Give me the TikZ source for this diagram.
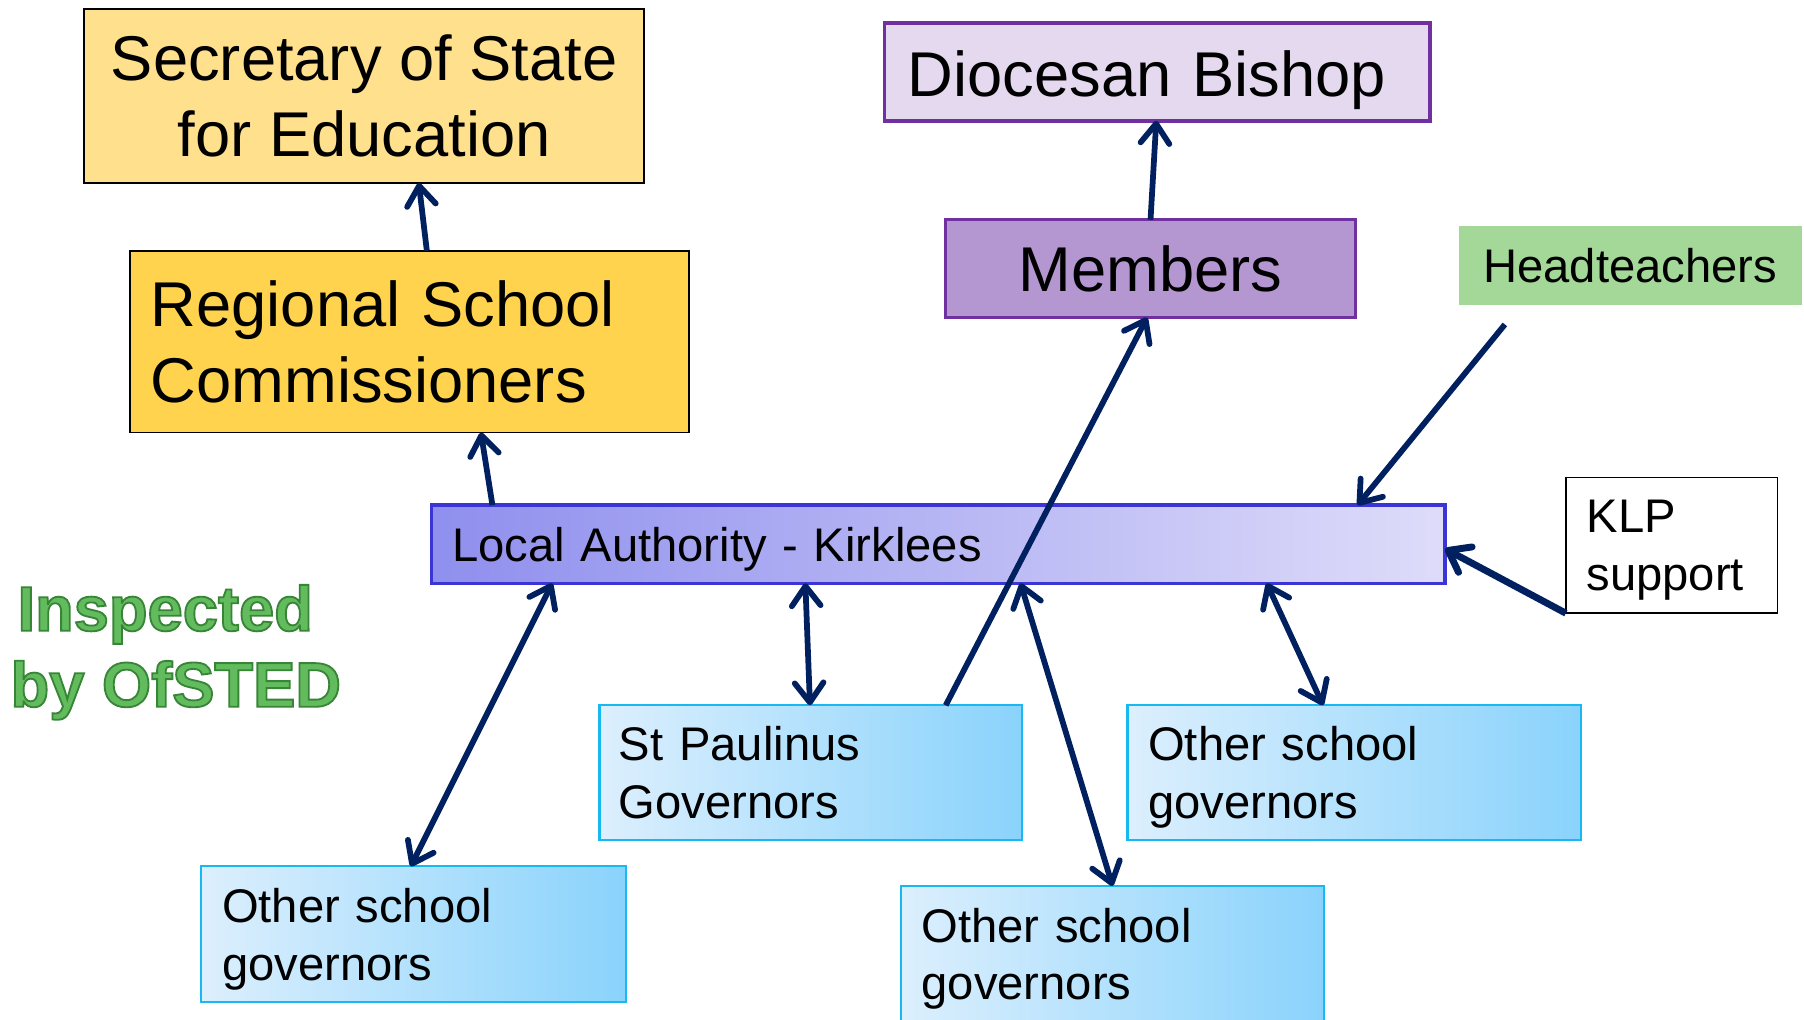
\documentclass[tikz,border=0pt]{standalone}
\usepackage{fontspec}
\setmainfont{Liberation Sans}
\usetikzlibrary{arrows.meta}
\definecolor{navy}{HTML}{002060}
\definecolor{secfill}{HTML}{FFE08C}
\definecolor{rscfill}{HTML}{FFD34D}
\definecolor{bishfill}{HTML}{E4D9EE}
\definecolor{purp}{HTML}{7030A0}
\definecolor{memfill}{HTML}{B497D0}
\definecolor{headfill}{HTML}{A3D898}
\definecolor{laleft}{HTML}{8F8FEE}
\definecolor{laright}{HTML}{DEDCF9}
\definecolor{laborder}{HTML}{3B35D6}
\definecolor{govleft}{HTML}{DCEFFD}
\definecolor{govright}{HTML}{8AD3FC}
\definecolor{govborder}{HTML}{1AB8F0}
\definecolor{ofsted}{HTML}{62BC5E}
\newcommand{\outlineon}{\special{pdf:literal direct 2 Tr 1.6 w 0.22 0.52 0.22 RG}}
\newcommand{\outlineoff}{\special{pdf:literal direct 0 Tr}}
\begin{document}
\begin{tikzpicture}[x=1pt,y=-1pt,
  bigtext/.style={font=\fontsize{55}{66}\selectfont},
  smalltext/.style={font=\fontsize{41}{50}\selectfont},
  boxbase/.style={inner ysep=0pt, outer sep=0pt},
  leftbox/.style 2 args={boxbase, align=left, minimum width=#1pt, text width=#1pt-2*#2pt, inner xsep=#2pt},
  blackbox/.style={draw=black, line width=1.5pt},
  purplebox/.style={draw=purp, line width=3pt},
  govbox/.style={draw=govborder, line width=2pt, left color=govleft, right color=govright, smalltext, text depth=50pt},
  conn/.style={draw=navy, line width=5pt, >={Straight Barb[length=17pt,width=25pt,round]}}
]
\clip (0,0) rectangle (1568,886);
\fill[white] (0,0) rectangle (1568,886);

% boxes
\node[boxbase, blackbox, fill=secfill, bigtext, align=center, minimum width=487pt, minimum height=151pt, inner xsep=0pt]
  (sec) at (316.5,83.5) {Secretary of State\\for Education};
\node[leftbox={486}{18}, blackbox, fill=rscfill, bigtext, minimum height=158pt]
  (rsc) at (356,297) {Regional School\\Commissioners};
\node[leftbox={474}{20}, purplebox, fill=bishfill, bigtext, minimum height=85pt, text height=43pt, text depth=0pt]
  (bish) at (1006,62.5) {Diocesan Bishop};
\node[boxbase, purplebox, fill=memfill, bigtext, minimum width=356pt, minimum height=85pt]
  (mem) at (1000,233.5) {Members};
\node[boxbase, fill=headfill, smalltext, minimum width=298pt, minimum height=69pt]
  (head) at (1417,230.5) {Headteachers};
\node[leftbox={881}{18}, draw=laborder, line width=3pt, left color=laleft, right color=laright, smalltext, minimum height=68pt, text depth=0pt]
  (la) at (815.5,473) {Local Authority - Kirklees};
\node[leftbox={184}{18}, blackbox, fill=white, smalltext, minimum height=118pt, text depth=50pt]
  (klp) at (1453,474) {KLP\\support};
\node[leftbox={367}{17}, govbox, minimum height=117pt]
  (stp) at (704.5,671.5) {St Paulinus\\Governors};
\node[leftbox={394}{18}, govbox, minimum height=117pt]
  (ogr) at (1177,671.5) {Other school\\governors};
\node[leftbox={369}{18}, govbox, minimum height=118pt]
  (ogl) at (359.5,812) {Other school\\governors};
\node[leftbox={368}{18}, govbox, minimum height=118pt]
  (ogb) at (967,829) {Other school\\governors};

\node[inner sep=0pt, anchor=west, align=left, text=ofsted, font=\fontsize{55}{66}\selectfont\bfseries]
  (ofs) at (9,567) {\outlineon\hspace*{6pt}Inspected\\\outlineon by OfSTED\outlineoff};

\coordinate (hstart) at ([xshift=-109pt,yshift=-17pt]head.south);

% connectors
\draw[conn,->] ([xshift=15pt]rsc.north) -- ([xshift=47.5pt]sec.south);
\draw[conn,->] ([xshift=-387.5pt]la.north) -- ([xshift=62pt]rsc.south);
\draw[conn,->] (mem.north) -- ([xshift=-1pt]bish.south);
\draw[conn,->] ([xshift=117.5pt]stp.north) -- ([xshift=-3pt]mem.south);
\draw[conn,->] (hstart) -- ([xshift=364.5pt]la.north);
\draw[conn,->, line width=6pt] (klp.south west) -- ([yshift=-4pt]la.east);
\draw[conn,<->] ([xshift=-2.5pt]ogl.north) -- ([xshift=-335.5pt]la.south);
\draw[conn,<->] ([xshift=-0.5pt]stp.north) -- ([xshift=-115.5pt]la.south);
\draw[conn,<->] (ogb.north) -- ([xshift=71.5pt]la.south);
\draw[conn,<->] ([xshift=-27pt]ogr.north) -- ([xshift=285.5pt]la.south);
\end{tikzpicture}
\end{document}
